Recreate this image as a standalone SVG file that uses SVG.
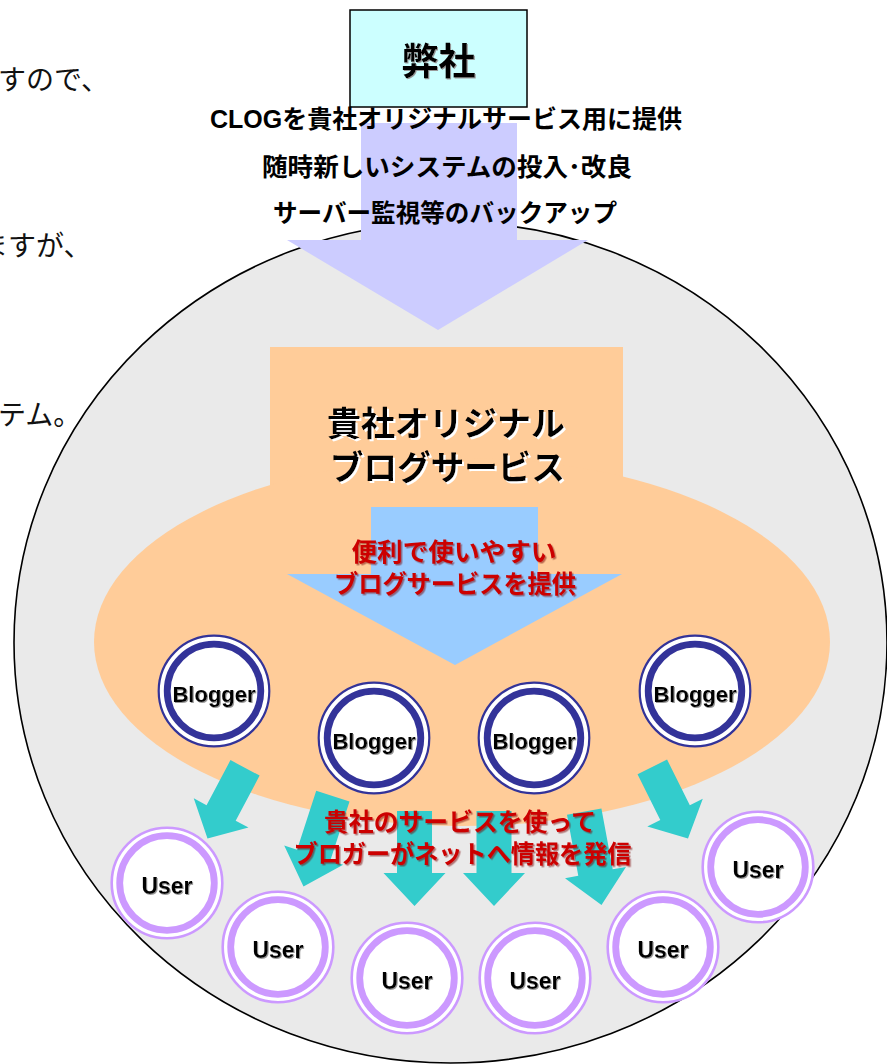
<svg xmlns="http://www.w3.org/2000/svg" xmlns:xlink="http://www.w3.org/1999/xlink" width="887" height="1064" viewBox="0 0 887 1064">
<defs>
<style>
.jp{font-family:"Liberation Sans","Noto Sans CJK JP",sans-serif;}
.b{font-weight:bold;}
.side{font-family:"Noto Sans CJK JP",sans-serif;font-size:28px;fill:#111;}
.top{font-size:25px;fill:#000;text-anchor:middle;}
.red{fill:#CC0000;font-size:25px;text-anchor:middle;}
.lbl{font-family:"Liberation Sans",Arial,sans-serif;font-weight:bold;fill:#000;text-anchor:middle;}
.teal{fill:#33CCCC;}
.bring{fill:none;stroke:#333399;}
.uring{fill:none;stroke:#CC99FF;}
</style>
<filter id="shW" x="-10%" y="-10%" width="120%" height="130%"><feDropShadow dx="2" dy="2" stdDeviation="0" flood-color="#FFFFFF"/></filter>
<filter id="shR" x="-10%" y="-10%" width="120%" height="130%"><feDropShadow dx="1.5" dy="1.5" stdDeviation="0" flood-color="#770000" flood-opacity="0.5"/></filter>
<filter id="shG" x="-10%" y="-10%" width="120%" height="130%"><feDropShadow dx="1" dy="1" stdDeviation="0" flood-color="#999999"/></filter>
<polygon id="arrL" points="-17.5,-95 17.5,-95 17.5,-33 31,-33 0,0 -31,-33 -17.5,-33"/>
<polygon id="arrS" points="-16.5,-80 16.5,-80 16.5,-29 31,-29 0,0 -31,-29 -16.5,-29"/>
<g id="blogger">
<circle r="55.3" fill="#FFFFFF" stroke="#333399" stroke-width="2.2"/>
<circle r="46.8" class="bring" stroke-width="6.8"/>
</g>
<g id="user">
<circle r="55.3" fill="#FFFFFF" stroke="#CC99FF" stroke-width="2.6"/>
<circle r="47.3" class="uring" stroke-width="6.8"/>
</g>
</defs>
<rect width="887" height="1064" fill="#FFFFFF"/>

<g id="side-text">
<text class="side" x="-2" y="90">すので、</text>
<text class="side" x="-20" y="256">ますが、</text>
<text class="side" x="-2" y="425">テム。</text>
</g>

<g id="world">
<ellipse cx="450.5" cy="642.5" rx="436.5" ry="420.5" fill="#EAEAEA" stroke="#000000" stroke-width="1.6"/>
</g>

<g id="company">
<rect x="350" y="10" width="177" height="97" fill="#CCFFFF" stroke="#000000" stroke-width="1.5"/>
<text class="jp b" x="438.5" y="75" font-size="37" text-anchor="middle" filter="url(#shG)">弊社</text>
</g>

<g id="provide-arrow">
<polygon points="361,123 517,123 517,240 588,240 438,330 287,240 361,240" fill="#CCCCFF"/>
<text class="jp b top" x="446" y="128" textLength="472" lengthAdjust="spacingAndGlyphs">CLOGを貴社オリジナルサービス用に提供</text>
<text class="jp b top" x="447" y="176" textLength="370" lengthAdjust="spacingAndGlyphs">随時新しいシステムの投入･改良</text>
<text class="jp b top" x="445" y="222" textLength="344" lengthAdjust="spacingAndGlyphs">サーバー監視等のバックアップ</text>
</g>

<g id="client-service">
<rect x="270" y="347" width="353" height="300" fill="#FFCC99"/>
<ellipse cx="462" cy="642" rx="368" ry="184" fill="#FFCC99"/>
<text class="jp b" x="446" y="436" font-size="34" text-anchor="middle" fill="#000" filter="url(#shW)" textLength="238" lengthAdjust="spacingAndGlyphs">貴社オリジナル</text>
<text class="jp b" x="447.5" y="480" font-size="34" text-anchor="middle" fill="#000" filter="url(#shW)" textLength="235" lengthAdjust="spacingAndGlyphs">ブログサービス</text>
</g>

<g id="service-arrow">
<polygon points="371,507 538,507 538,574 622,574 455,665 287,574 371,574" fill="#99CCFF"/>
<text class="jp b red" x="454" y="561" filter="url(#shR)" textLength="205" lengthAdjust="spacingAndGlyphs">便利で使いやすい</text>
<text class="jp b red" x="455" y="593" filter="url(#shR)" textLength="242" lengthAdjust="spacingAndGlyphs">ブログサービスを提供</text>
</g>

<g id="connectors" class="teal">
<use xlink:href="#arrS" transform="translate(207.5,838.5) rotate(28)"/>
<use xlink:href="#arrL" transform="translate(303.5,886.5) rotate(18)"/>
<use xlink:href="#arrL" transform="translate(414.5,906)"/>
<use xlink:href="#arrL" transform="translate(494,906)"/>
<use xlink:href="#arrL" transform="translate(601.5,905) rotate(-10.5)"/>
<use xlink:href="#arrS" transform="translate(688,838.5) rotate(-26.5)"/>
</g>

<g id="blogger-1" transform="translate(214,691)">
<use xlink:href="#blogger"/>
<text class="lbl" x="0" y="11" font-size="22" filter="url(#shG)">Blogger</text>
</g>
<g id="blogger-2" transform="translate(374,738)">
<use xlink:href="#blogger"/>
<text class="lbl" x="0" y="11" font-size="22" filter="url(#shG)">Blogger</text>
</g>
<g id="blogger-3" transform="translate(534,738)">
<use xlink:href="#blogger"/>
<text class="lbl" x="0" y="11" font-size="22" filter="url(#shG)">Blogger</text>
</g>
<g id="blogger-4" transform="translate(695,691)">
<use xlink:href="#blogger"/>
<text class="lbl" x="0" y="11" font-size="22" filter="url(#shG)">Blogger</text>
</g>

<g id="user-1" transform="translate(167,883)">
<use xlink:href="#user"/>
<text class="lbl" x="0" y="11" font-size="23" filter="url(#shG)">User</text>
</g>
<g id="user-2" transform="translate(278,947)">
<use xlink:href="#user"/>
<text class="lbl" x="0" y="11" font-size="23" filter="url(#shG)">User</text>
</g>
<g id="user-3" transform="translate(407,978)">
<use xlink:href="#user"/>
<text class="lbl" x="0" y="11" font-size="23" filter="url(#shG)">User</text>
</g>
<g id="user-4" transform="translate(535,978)">
<use xlink:href="#user"/>
<text class="lbl" x="0" y="11" font-size="23" filter="url(#shG)">User</text>
</g>
<g id="user-5" transform="translate(663,947)">
<use xlink:href="#user"/>
<text class="lbl" x="0" y="11" font-size="23" filter="url(#shG)">User</text>
</g>
<g id="user-6" transform="translate(758,867)">
<use xlink:href="#user"/>
<text class="lbl" x="0" y="11" font-size="23" filter="url(#shG)">User</text>
</g>

<g id="blogger-message">
<text class="jp b red" x="460" y="831" filter="url(#shR)" textLength="272" lengthAdjust="spacingAndGlyphs">貴社のサービスを使って</text>
<text class="jp b red" x="462.5" y="863" filter="url(#shR)" textLength="338" lengthAdjust="spacingAndGlyphs">ブロガーがネットへ情報を発信</text>
</g>
</svg>
